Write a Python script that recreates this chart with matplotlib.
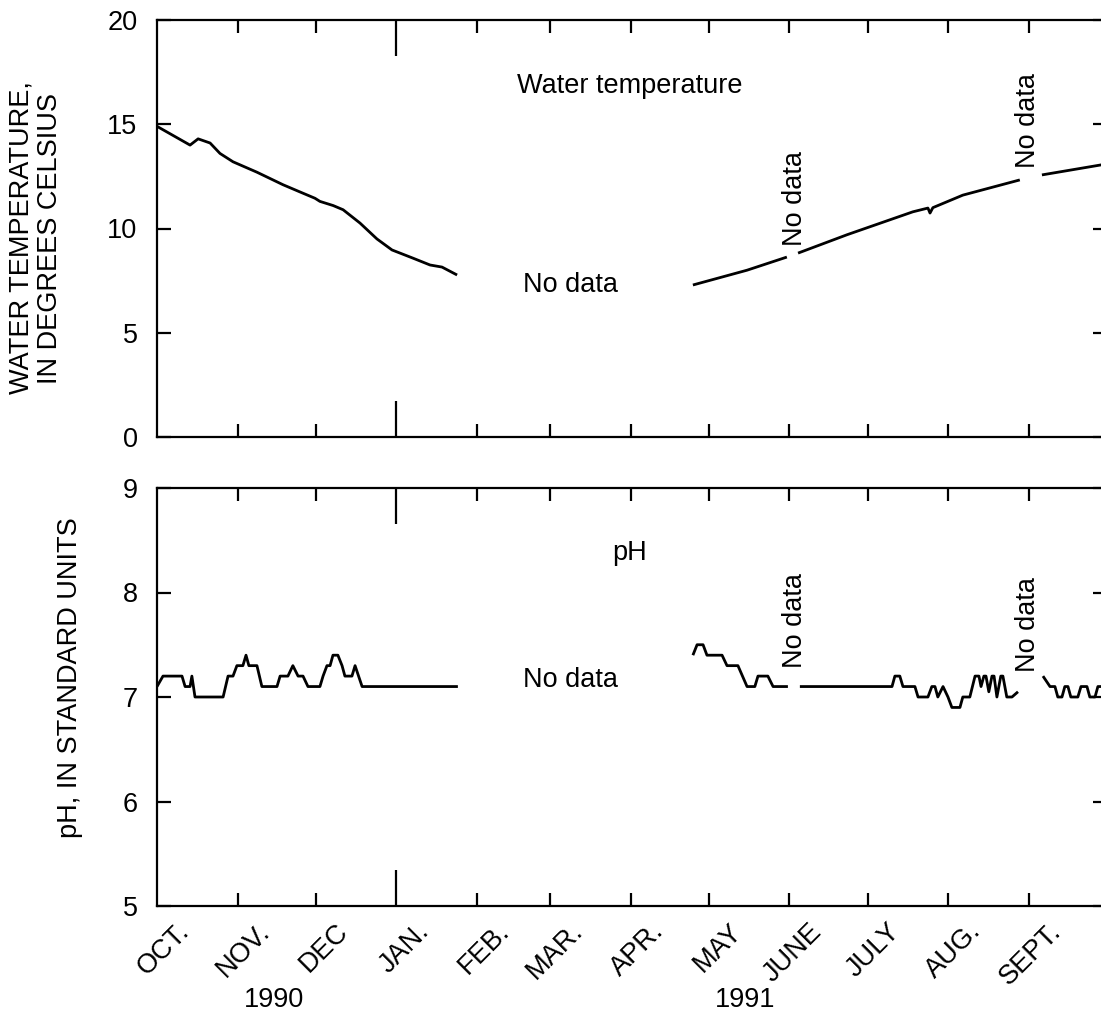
import datetime as dt
import matplotlib.pyplot as plt

plt.rcParams['font.family'] = ['Liberation Sans', 'DejaVu Sans']
plt.rcParams['font.size'] = 19.5

# time axis: days counted from 1 Oct 1990 (start of water year 1991)
start = dt.date(1990, 10, 1)
months = [(1990, 10), (1990, 11), (1990, 12), (1991, 1), (1991, 2), (1991, 3),
          (1991, 4), (1991, 5), (1991, 6), (1991, 7), (1991, 8), (1991, 9)]
month_labels = ['OCT.', 'NOV.', 'DEC', 'JAN.', 'FEB.', 'MAR.',
                'APR.', 'MAY', 'JUNE', 'JULY', 'AUG.', 'SEPT.']
month_starts = [(dt.date(y, m, 1) - start).days for y, m in months]
month_mids = [(dt.date(y, m, 15) - start).days for y, m in months]
new_year = (dt.date(1991, 1, 1) - start).days

# water temperature, deg C (gaps where the record is missing)
temp_day_a = [0, 12.7, 15.8, 20.4, 24.2, 29.2, 38.4, 48.4, 55.0, 60.7, 62.6, 67.7,
              71.5, 78.0, 84.5, 90.3, 98.3, 104.9, 109.5, 115.3]
temp_a = [14.9, 14.0, 14.3, 14.1, 13.6, 13.2, 12.7, 12.1, 11.75, 11.45, 11.3, 11.1,
          10.9, 10.26, 9.5, 8.97, 8.58, 8.25, 8.15, 7.77]
temp_day_b = [205.9, 226.7, 242.0]
temp_b = [7.29, 8.0, 8.63]
temp_day_c = [246.3, 265.1, 290.4, 296.2, 297.0, 298.1, 309.6, 331.5]
temp_c = [8.82, 9.70, 10.8, 10.98, 10.74, 11.0, 11.6, 12.33]
temp_day_d = [340.0, 362.7, 365.0]
temp_d = [12.57, 13.05, 13.1]

# pH, standard units
ph_day_a = [0.0, 2.3, 9.6, 10.8, 12.7, 13.4, 14.6, 25.4, 27.3, 29.2, 30.7, 33.0,
            34.2, 35.3, 38.4, 40.3, 46.1, 47.3, 50.3, 52.2, 54.2, 56.1, 58.0, 62.6,
            63.8, 65.3, 66.5, 67.6, 69.5, 71.1, 72.2, 74.9, 76.1, 78.8, 115.6]
ph_a = [7.1, 7.2, 7.2, 7.1, 7.1, 7.2, 7.0, 7.0, 7.2, 7.2, 7.3, 7.3,
        7.4, 7.3, 7.3, 7.1, 7.1, 7.2, 7.2, 7.3, 7.2, 7.2, 7.1, 7.1,
        7.2, 7.3, 7.3, 7.4, 7.4, 7.3, 7.2, 7.2, 7.3, 7.1, 7.1]
ph_day_b = [205.9, 207.5, 209.8, 211.3, 217.1, 219.0, 223.2, 226.7, 229.7, 230.9,
            234.7, 236.7, 242.4]
ph_b = [7.4, 7.5, 7.5, 7.4, 7.4, 7.3, 7.3, 7.1, 7.1, 7.2, 7.2, 7.1, 7.1]
ph_day_c = [247.0, 282.4, 283.5, 285.4, 286.6, 291.2, 292.4, 296.2, 297.7, 298.9,
            300.0, 302.0, 303.9, 305.4, 308.5, 309.6, 312.3, 314.3, 315.8, 316.6,
            317.7, 318.5, 319.6, 320.8, 321.6, 322.7, 324.2, 325.0, 326.5, 328.5, 330.8]
ph_c = [7.1, 7.1, 7.2, 7.2, 7.1, 7.1, 7.0, 7.0, 7.1, 7.1,
        7.0, 7.1, 7.0, 6.9, 6.9, 7.0, 7.0, 7.2, 7.2, 7.1,
        7.2, 7.2, 7.05, 7.2, 7.2, 7.0, 7.2, 7.2, 7.0, 7.0, 7.05]
ph_day_d = [340.4, 343.1, 345.0, 346.1, 347.7, 348.8, 350.0, 351.1, 353.8, 355.0,
            357.3, 358.4, 360.4, 361.5, 365.0]
ph_d = [7.2, 7.1, 7.1, 7.0, 7.0, 7.1, 7.1, 7.0, 7.0, 7.1,
        7.1, 7.0, 7.0, 7.1, 7.1]

W, H = 1101, 1017
fig = plt.figure(figsize=(W / 100, H / 100), dpi=100)
left = 157 / W
width = (1107 - 157) / W
ax1 = fig.add_axes([left, 1 - 437 / H, width, 417 / H])
ax2 = fig.add_axes([left, 1 - 906 / H, width, 418 / H])

line_kw = dict(color='black', lw=2.0, solid_capstyle='butt')
for d, v in [(temp_day_a, temp_a), (temp_day_b, temp_b), (temp_day_c, temp_c), (temp_day_d, temp_d)]:
    ax1.plot(d, v, **line_kw)
for d, v in [(ph_day_a, ph_a), (ph_day_b, ph_b), (ph_day_c, ph_c), (ph_day_d, ph_d)]:
    ax2.plot(d, v, **line_kw)

for ax in (ax1, ax2):
    ax.set_xlim(0, 365)
    for s in ax.spines.values():
        s.set_linewidth(1.6)
    ax.set_xticks([d for d in month_starts[1:] if d != new_year])
    ax.set_xticks([new_year], minor=True)
    ax.tick_params(axis='x', which='major', direction='in', top=True, bottom=True,
                   length=9.5, width=1.6, labelbottom=False)
    ax.tick_params(axis='x', which='minor', direction='in', top=True, bottom=True,
                   length=26, width=1.6, labelbottom=False)
    ax.tick_params(axis='y', direction='in', left=True, right=True,
                   length=10, width=1.6, pad=14, labelsize=19.5)

ax1.set_ylim(0, 20)
ax1.set_yticks([0, 5, 10, 15, 20])
ax2.set_ylim(5, 9)
ax2.set_yticks([5, 6, 7, 8, 9])

# annotations inside the panels
ax1.text(181.7, 16.5, 'Water temperature', ha='center', va='baseline')
ax1.text(158.7, 6.97, 'No data', ha='center', va='baseline')
ax1.text(245.1, 11.46, 'No data', rotation=90, ha='center', va='center')
ax1.text(334.6, 15.16, 'No data', rotation=90, ha='center', va='center')
ax2.text(181.7, 8.31, 'pH', ha='center', va='baseline')
ax2.text(158.7, 7.10, 'No data', ha='center', va='baseline')
ax2.text(245.1, 7.73, 'No data', rotation=90, ha='center', va='center')
ax2.text(334.6, 7.69, 'No data', rotation=90, ha='center', va='center')

# month names, slanted, under the bottom panel
for d, lab in zip(month_mids, month_labels):
    ax2.annotate(lab, xy=(d, 0), xycoords=('data', 'axes fraction'),
                 xytext=(-2, -19), textcoords='offset points',
                 rotation=45, rotation_mode='anchor', ha='right', va='baseline')
ax2.annotate('1990', xy=(month_mids[1], 0), xycoords=('data', 'axes fraction'),
             xytext=(0, -68), textcoords='offset points', ha='center', va='center')
ax2.annotate('1991', xy=(month_mids[7], 0), xycoords=('data', 'axes fraction'),
             xytext=(0, -68), textcoords='offset points', ha='center', va='center')

fig.text(36 / W, 1 - 238 / H, 'WATER TEMPERATURE,\nIN DEGREES CELSIUS',
         rotation=90, ha='center', va='center', linespacing=1.1)
fig.text(70 / W, 1 - 678 / H, 'pH, IN STANDARD UNITS',
         rotation=90, ha='center', va='center')

fig.savefig('out.png', dpi=100)
